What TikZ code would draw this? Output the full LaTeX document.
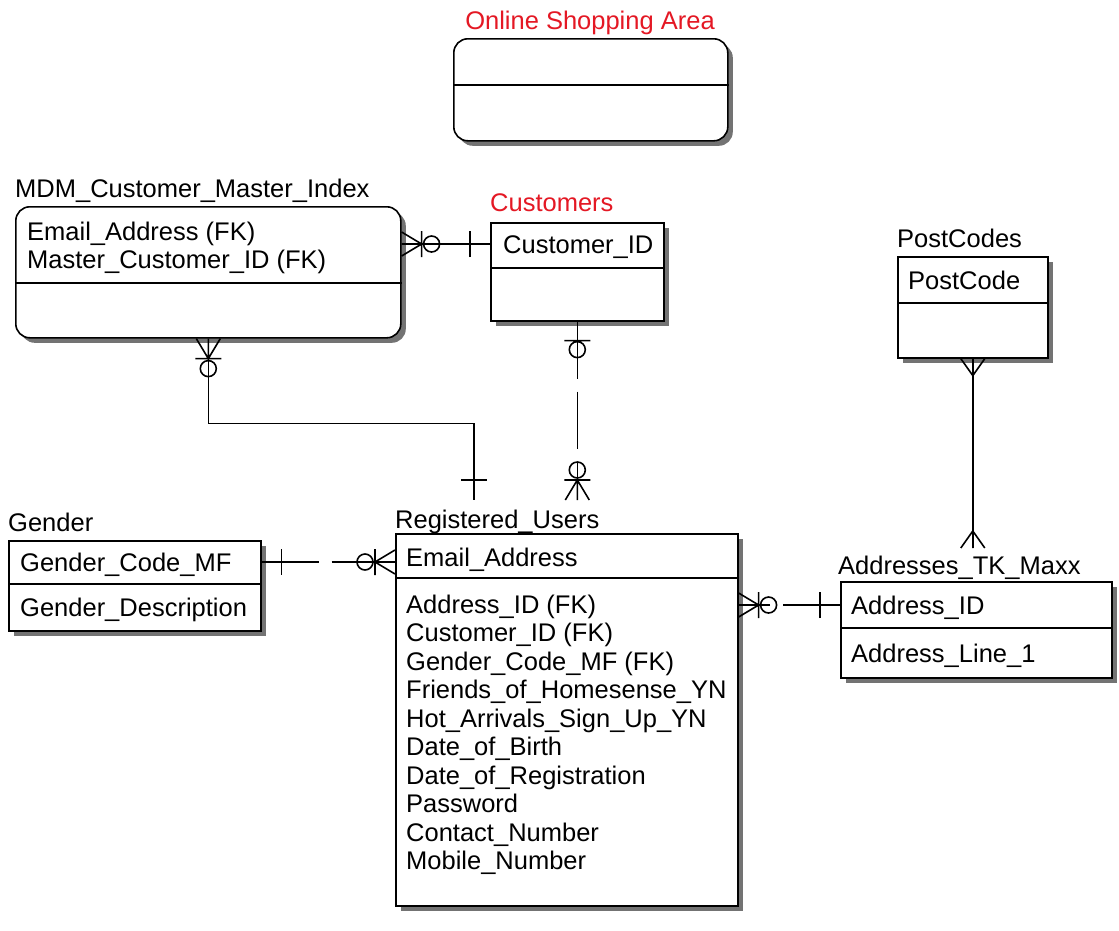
\documentclass[tikz,border=0pt]{standalone}
\usepackage{fontspec}
\setmainfont{Liberation Sans}
\usetikzlibrary{shadows}
\definecolor{ertitle}{RGB}{228,24,36}

\begin{document}
\begin{tikzpicture}[x=1pt, y=-1pt,
    entity/.style={draw, line width=1.6pt, fill=white, anchor=north west, inner sep=0pt,
      drop shadow={shadow xshift=5pt, shadow yshift=-5pt, fill=black!55, opacity=1}},
    label/.style={anchor=west, inner sep=0pt, text height=18pt, text depth=0pt,
      font=\fontsize{25.5}{28}\selectfont},
    divider/.style={line width=1.6pt},
    conn/.style={line width=1.6pt},
    nonid/.style={conn, dash pattern=on 57pt off 13pt},
    one/.pic={\draw[line width=1.6pt] (20,-13) -- (20,13);},
    many/.pic={\draw[line width=1.6pt] (0,-12) -- (17,0) -- (0,12) (0,0) -- (17,0);},
    zeromany/.pic={\draw[line width=1.6pt] (0,-12) -- (20,0) -- (0,12) (0,0) -- (20,0)
      (20,-13) -- (20,13) (30,0) circle (8);},
    zeroone/.pic={\draw[line width=1.6pt] (19,-13) -- (19,13) (28,0) circle (8);}]
  \useasboundingbox [fill=white] (0,0) rectangle (1119,930);

  % Online Shopping Area
  \node [label, anchor=center, text=ertitle] (osa-t) at (590,20) {Online Shopping Area};
  \node [entity, rounded corners=14pt, minimum width=274pt, minimum height=102pt] (osa) at (453,38) {};
  \draw [divider] (osa.west |- 0,85) -- (osa.east |- 0,85);

  % MDM_Customer_Master_Index
  \node [label] (mdm-t) at (15,188) {MDM\_Customer\_Master\_Index};
  \node [entity, rounded corners=14pt, minimum width=385pt, minimum height=131pt] (mdm) at (15,206) {};
  \draw [divider] (mdm.west |- 0,283) -- (mdm.east |- 0,283);
  \node [label] (mdm-1) at (27,231) {Email\_Address (FK)};
  \node [label] (mdm-2) at (27,259) {Master\_Customer\_ID (FK)};

  % Customers
  \node [label, text=ertitle] (cust-t) at (490,202) {Customers};
  \node [entity, minimum width=173pt, minimum height=98pt] (cust) at (490,222) {};
  \draw [divider] (cust.west |- 0,268) -- (cust.east |- 0,268);
  \node [label] (cid) at (503,244) {Customer\_ID};

  % PostCodes
  \node [label] (pc-t) at (897,238) {PostCodes};
  \node [entity, minimum width=150pt, minimum height=101pt] (pc) at (897,256) {};
  \draw [divider] (pc.west |- 0,303) -- (pc.east |- 0,303);
  \node [label] (pcode) at (908,280) {PostCode};

  % Gender
  \node [label] (gen-t) at (8,522) {Gender};
  \node [entity, minimum width=252pt, minimum height=90pt] (gen) at (8,540) {};
  \draw [divider] (gen.west |- 0,584) -- (gen.east |- 0,584);
  \node [label] (gcode) at (20,562) {Gender\_Code\_MF};
  \node [label] (gdesc) at (20,607) {Gender\_Description};

  % Registered_Users
  \node [label] (ru-t) at (395,519) {Registered\_Users};
  \node [entity, minimum width=342pt, minimum height=372pt] (ru) at (395,533) {};
  \draw [divider] (ru.west |- 0,578) -- (ru.east |- 0,578);
  \node [label] (email) at (406,557) {Email\_Address};
  \foreach \txt [count=\i] in {Address\_ID (FK), Customer\_ID (FK), Gender\_Code\_MF (FK),
      Friends\_of\_Homesense\_YN, Hot\_Arrivals\_Sign\_Up\_YN, Date\_of\_Birth,
      Date\_of\_Registration, Password, Contact\_Number, Mobile\_Number}
    \node [label] (ru-\i) at (406,575.5+28.5*\i) {\txt};

  % Addresses_TK_Maxx
  \node [label] (ad-t) at (838,565) {Addresses\_TK\_Maxx};
  \node [entity, minimum width=271pt, minimum height=96pt] (ad) at (840,581) {};
  \draw [divider] (ad.west |- 0,628) -- (ad.east |- 0,628);
  \node [label] (aid) at (851,605) {Address\_ID};
  \node [label] (aline) at (851,653) {Address\_Line\_1};

  % Relationships
  \coordinate (ru-mdm) at (474,500);
  \coordinate (ru-cust) at (cust.south |- 0,500);
  \coordinate (ad-top) at (pc.south |- 0,548);

  \draw [conn] (mdm.east |- cid) -- (cust.west |- cid);
  \draw [conn] (mdm.south) -- ++(0,85) -| (ru-mdm);
  \draw [nonid] (cust.south) -- (ru-cust);
  \draw [nonid] (gen.east |- gcode) -- (ru.west |- gcode);
  \draw [nonid] (ad.west |- aid) -- (ru.east |- aid);
  \draw [conn] (pc.south) -- (ad-top);

  \path (mdm.east |- cid) pic {zeromany};
  \path (cust.west |- cid) pic [rotate=180] {one};
  \path (mdm.south) pic [rotate=-90] {zeromany};
  \path (ru-mdm) pic [rotate=90] {one};
  \path (cust.south) pic [rotate=-90] {zeroone};
  \path (ru-cust) pic [rotate=90] {zeromany};
  \path (gen.east |- gcode) pic {one};
  \path (ru.west |- gcode) pic [rotate=180] {zeromany};
  \path (ru.east |- aid) pic {zeromany};
  \path (ad.west |- aid) pic [rotate=180] {one};
  \path (pc.south) pic [rotate=-90] {many};
  \path (ad-top) pic [rotate=90] {many};
\end{tikzpicture}
\end{document}
